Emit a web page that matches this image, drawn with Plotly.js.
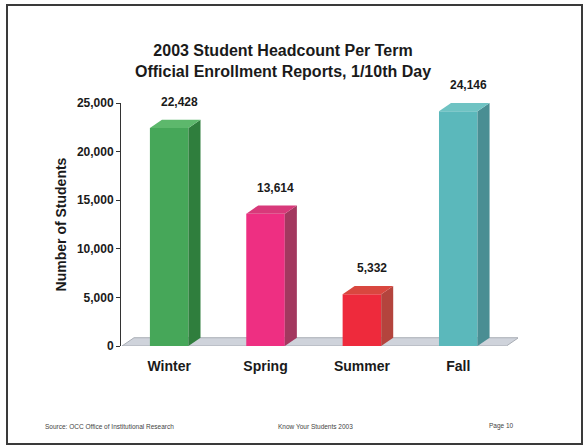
<!DOCTYPE html>
<html>
<head>
<meta charset="utf-8">
<script src="https://cdn.plot.ly/plotly-3.0.1.min.js"></script>
<style>
  html, body { margin: 0; padding: 0; background: #fff; }
  #wrap { position: relative; width: 587px; height: 447px; }
  #chart { width: 587px; height: 447px; }
  #frame { position: absolute; left: 6px; top: 4px; width: 573px; height: 437px;
           border: 2px solid #3a3a3a; pointer-events: none; }
</style>
</head>
<body>
<div id="wrap">
  <div id="chart"></div>
  <div id="frame"></div>
</div>
<script>
// ---- data ----
const terms = ["Winter", "Spring", "Summer", "Fall"];
const headcount = [22428, 13614, 5332, 24146];
const frontColors = ["#46a759", "#ee2f82", "#ee2a3c", "#5bb8bb"];
const sideColors  = ["#2f7e3d", "#a3385f", "#b4443d", "#4a8e93"];
const topColors   = ["#5db86c", "#d8397a", "#d9473f", "#6fc3c3"];
const yTicks = [0, 5000, 10000, 15000, 20000, 25000];

const idx = terms.map((_, i) => i);
const barWidth = 0.4;
const depthX = 0.125;   // 3D depth, x data units
const depthY = 850;     // 3D depth, y data units
const FONT = "Liberation Sans, Arial, sans-serif";

const shapes = [];
// floor slab
shapes.push({
  type: "path", xref: "x", yref: "y", layer: "below",
  path: `M -0.49 0 L ${3.5} 0 L ${3.5 + depthX} ${depthY} L ${-0.49 + depthX} ${depthY} Z`,
  fillcolor: "#cfd3db", line: { color: "#a9adb5", width: 1 }
});
idx.forEach(i => {
  const v = headcount[i];
  const l = i - barWidth / 2, r = i + barWidth / 2;
  shapes.push({
    type: "path", xref: "x", yref: "y", layer: "above",
    path: `M ${r} 0 L ${r} ${v} L ${r + depthX} ${v + depthY} L ${r + depthX} ${depthY} Z`,
    fillcolor: sideColors[i], line: { width: 0 }
  });
  shapes.push({
    type: "path", xref: "x", yref: "y", layer: "above",
    path: `M ${l} ${v} L ${r} ${v} L ${r + depthX} ${v + depthY} L ${l + depthX} ${v + depthY} Z`,
    fillcolor: topColors[i], line: { width: 0 }
  });
});

const annotations = idx.map(i => ({
  x: idx[i], y: headcount[i], xref: "x", yref: "y",
  text: headcount[i].toLocaleString("en-US"),
  showarrow: false, xanchor: "center", yanchor: "bottom",
  xshift: 10, yshift: 17,
  font: { family: FONT, size: 12, color: "#1a1a1a", weight: "bold" }
}));
const footFont = { family: FONT, size: 6.5, color: "#444" };
annotations.push(
  { xref: "paper", yref: "paper", x: -0.197, y: -0.33, xanchor: "left", yanchor: "middle",
    text: "Source: OCC Office of Institutional Research", showarrow: false, font: footFont },
  { xref: "paper", yref: "paper", x: 0.49, y: -0.33, xanchor: "center", yanchor: "middle",
    text: "Know Your Students 2003", showarrow: false, font: footFont },
  { xref: "paper", yref: "paper", x: 0.922, y: -0.33, xanchor: "left", yanchor: "middle",
    text: "Page 10", showarrow: false, font: footFont }
);

const trace = {
  type: "bar", x: idx, y: headcount, width: barWidth,
  marker: { color: frontColors, line: { width: 0 } },
  hoverinfo: "skip", cliponaxis: false
};

const layout = {
  width: 587, height: 447,
  margin: { l: 121, r: 69, t: 103, b: 101 },
  paper_bgcolor: "#ffffff", plot_bgcolor: "rgba(0,0,0,0)",
  showlegend: false,
  title: {
    text: "2003 Student Headcount Per Term<br>Official Enrollment Reports, 1/10th Day",
    x: 283 / 587, xanchor: "center", xref: "container",
    y: 1 - 56 / 447, yanchor: "top", yref: "container",
    font: { family: FONT, size: 16, color: "#1a1a1a", weight: "bold" }
  },
  xaxis: {
    range: [-0.5, 3.62], tickmode: "array", tickvals: idx, ticktext: terms,
    showline: false, showgrid: false, zeroline: false, ticks: "",
    ticklabelstandoff: 10,
    tickfont: { family: FONT, size: 14, color: "#1a1a1a", weight: "bold" },
    fixedrange: true
  },
  yaxis: {
    range: [0, 25000], tickmode: "array", tickvals: yTicks,
    tickformat: ",d", showline: true, linecolor: "#333", linewidth: 1,
    ticks: "outside", ticklen: 4, tickcolor: "#333",
    showgrid: false, zeroline: false,
    tickfont: { family: FONT, size: 12, color: "#1a1a1a", weight: "bold" },
    title: { text: "Number of Students", standoff: 6,
             font: { family: FONT, size: 14, color: "#1a1a1a", weight: "bold" } },
    fixedrange: true
  },
  shapes: shapes,
  annotations: annotations
};

Plotly.newPlot("chart", [trace], layout, { displayModeBar: false, staticPlot: true });
</script>
</body>
</html>
